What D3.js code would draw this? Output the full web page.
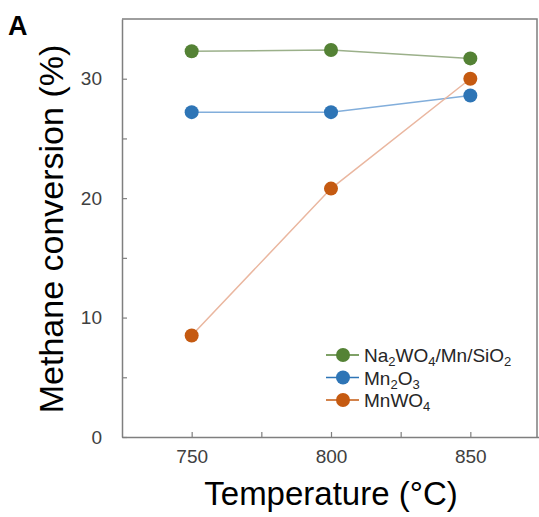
<!DOCTYPE html>
<html>
<head>
<meta charset="utf-8">
<script src="https://cdn.jsdelivr.net/npm/d3@7"></script>
<style>
  body { margin: 0; background: #fff; }
  text { font-family: Arial, "Liberation Sans", sans-serif; }
</style>
</head>
<body>
<script>
// data
const temps = [750, 800, 850];
const na2wo4 = [32.3, 32.4, 31.7];
const mn2o3 = [27.2, 27.2, 28.6];
const mnwo4 = [8.5, 20.8, 30.0];
const xTicks = [725, 750, 775, 800, 825, 850, 875];
const xLabels = [750, 800, 850];
const yTicks = [0, 5, 10, 15, 20, 25, 30, 35];
const yLabels = [0, 10, 20, 30];

const series = [
  { name: [["Na", 0], ["2", 1], ["WO", 0], ["4", 1], ["/Mn/SiO", 0], ["2", 1]], vals: na2wo4, col: "#548235", line: "#9bb08a" },
  { name: [["Mn", 0], ["2", 1], ["O", 0], ["3", 1]], vals: mn2o3, col: "#2e75b6", line: "#82aedb" },
  { name: [["MnWO", 0], ["4", 1]], vals: mnwo4, col: "#c55a11", line: "#eab7a0" }
];

const width = 539, height = 517;
const pLeft = 122, pRight = 537, pTop = 19, pBottom = 437;

const svg = d3.select("body").append("svg").attr("width", width).attr("height", height);

let x = d3.scaleLinear().domain([725, 875]).range([pLeft, 540]);
let y = d3.scaleLinear().domain([0, 35]).range([pBottom, pTop]);

// frame top + right
svg.append("path")
  .attr("d", `M${pLeft},${pTop}H${pRight}V${pBottom}`)
  .attr("fill", "none").attr("stroke", "#7f7f7f").attr("stroke-width", 1.5);

let xAxis = svg.append("g").attr("transform", `translate(0,${pBottom})`)
  .call(d3.axisBottom(x).tickValues(xTicks).tickSizeInner(-5).tickSizeOuter(0).tickPadding(13)
    .tickFormat(d => xLabels.includes(d) ? d : ""));
let yAxis = svg.append("g").attr("transform", `translate(${pLeft},0)`)
  .call(d3.axisLeft(y).tickValues(yTicks).tickSizeInner(-5).tickSizeOuter(0).tickPadding(20)
    .tickFormat(d => yLabels.includes(d) ? d : ""));

[xAxis, yAxis].forEach(a => {
  a.select(".domain").attr("stroke", "#7f7f7f").attr("stroke-width", 1.5);
  a.selectAll(".tick line").attr("stroke", "#7f7f7f").attr("stroke-width", 1.2);
  a.selectAll(".tick text").attr("fill", "#404040").style("font-size", "19px")
    .style("font-family", "Arial, 'Liberation Sans', sans-serif");
});
xAxis.selectAll(".tick").filter(d => d == 875 || d == 725).remove();
yAxis.selectAll(".tick").filter(d => d == 35).remove();

// lines and markers
const line = d3.line().x(d => x(d[0])).y(d => y(d[1]));
series.forEach(s => {
  const pts = temps.map((t, i) => [t, s.vals[i]]);
  svg.append("path").datum(pts).attr("d", line)
    .attr("fill", "none").attr("stroke", s.line).attr("stroke-width", 1.5);
});
series.forEach(s => {
  svg.selectAll(null).data(temps.map((t, i) => [t, s.vals[i]])).enter().append("circle")
    .attr("cx", d => x(d[0])).attr("cy", d => y(d[1])).attr("r", 7)
    .attr("fill", s.col);
});

// legend
const lg = svg.append("g").attr("transform", "translate(326,355)");
series.forEach((s, i) => {
  const row = lg.append("g").attr("transform", `translate(0,${i * 22.5})`);
  row.append("line").attr("x1", 0).attr("x2", 33).attr("stroke", s.col).attr("stroke-width", 1.5);
  row.append("circle").attr("cx", 17).attr("r", 7).attr("fill", s.col);
  const t = row.append("text").attr("x", 38).attr("y", 7).attr("fill", "#262626").style("font-size", "19px");
  s.name.forEach(p => {
    const sp = t.append("tspan").text(p[0]);
    if (p[1]) sp.style("font-size", "13px").attr("dy", 4);
    else sp.attr("dy", t.selectAll("tspan").size() > 1 ? -4 : 0);
  });
});

// axis titles
svg.append("text").attr("x", 331).attr("y", 505).attr("text-anchor", "middle")
  .style("font-size", "33px").attr("fill", "#000").text("Temperature (°C)");
svg.append("text").attr("transform", "translate(63,229) rotate(-90)").attr("text-anchor", "middle")
  .style("font-size", "34px").attr("fill", "#000").text("Methane conversion (%)");

svg.append("text").attr("x", 8).attr("y", 35).style("font-size", "27px").style("font-weight", "bold")
  .text("A");
</script>
</body>
</html>
